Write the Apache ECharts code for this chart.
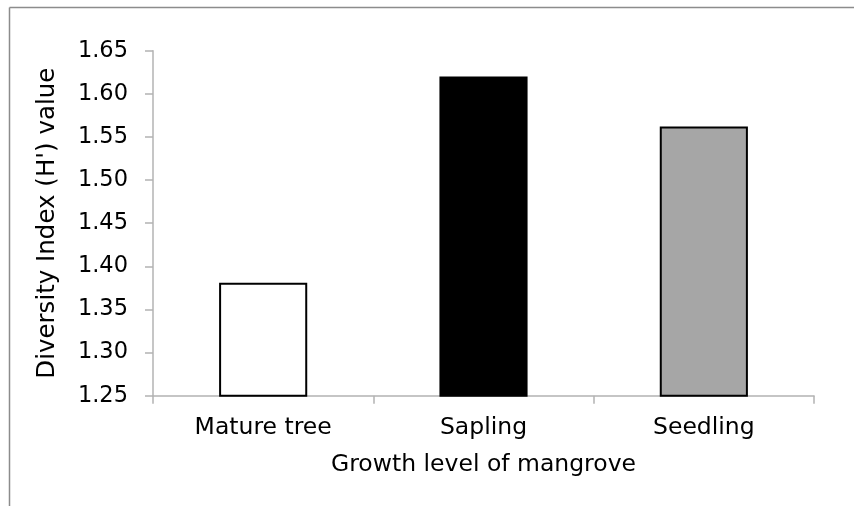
<!DOCTYPE html>
<html>
<head>
<meta charset="utf-8">
<script src="https://cdn.jsdelivr.net/npm/echarts@6/dist/echarts.min.js"></script>
<style>html,body{margin:0;padding:0;background:#fff}#c{width:854px;height:506px}</style>
</head>
<body>
<div id="c"></div>
<script>
const categories = ['Mature tree', 'Sapling', 'Seedling'];
const values = [1.381, 1.620, 1.562];
const barColors = ['#ffffff', '#000000', '#a6a6a6'];
const yTicks = { min: 1.25, max: 1.65, interval: 0.05 };
const xTitle = 'Growth level of mangrove';
const yTitle = "Diversity Index (H') value";

const font = 'DejaVu Sans, Verdana, sans-serif';
const chart = echarts.init(document.getElementById('c'), null, { renderer: 'canvas' });
chart.setOption({
  animation: false,
  backgroundColor: '#ffffff',
  grid: { left: 153, right: 40, top: 50.7, bottom: 110.3, containLabel: false },
  graphic: [
    { type: 'line', shape: { x1: 9.5, y1: 7.5, x2: 854, y2: 7.5 }, style: { stroke: '#8c8c8c', lineWidth: 1.5 } },
    { type: 'line', shape: { x1: 9.5, y1: 7.5, x2: 9.5, y2: 506 }, style: { stroke: '#8c8c8c', lineWidth: 1.5 } }
  ],
  xAxis: {
    type: 'category',
    data: categories,
    name: xTitle,
    nameLocation: 'middle',
    nameGap: 57,
    nameTextStyle: { fontFamily: font, fontSize: 23.5, color: '#000' },
    axisLine: { lineStyle: { color: '#b3b3b3', width: 1.5 } },
    axisTick: { show: true, length: 8, lineStyle: { color: '#b3b3b3', width: 1.5 } },
    axisLabel: { fontFamily: font, fontSize: 23.5, color: '#000', margin: 20 }
  },
  yAxis: {
    type: 'value',
    min: yTicks.min,
    max: yTicks.max,
    interval: yTicks.interval,
    name: yTitle,
    nameLocation: 'middle',
    nameGap: 93,
    nameTextStyle: { fontFamily: font, fontSize: 24.5, color: '#000' },
    splitLine: { show: false },
    axisLine: { show: true, lineStyle: { color: '#b3b3b3', width: 1.5 } },
    axisTick: { show: true, length: 8, lineStyle: { color: '#b3b3b3', width: 1.5 } },
    axisLabel: { fontFamily: font, fontSize: 22.5, color: '#000', margin: 25, formatter: v => v.toFixed(2) }
  },
  series: [{
    type: 'bar',
    barWidth: '40%',
    data: values.map((v, i) => ({ value: v, itemStyle: { color: barColors[i], borderColor: '#000', borderWidth: 2 } }))
  }]
});
</script>
</body>
</html>
